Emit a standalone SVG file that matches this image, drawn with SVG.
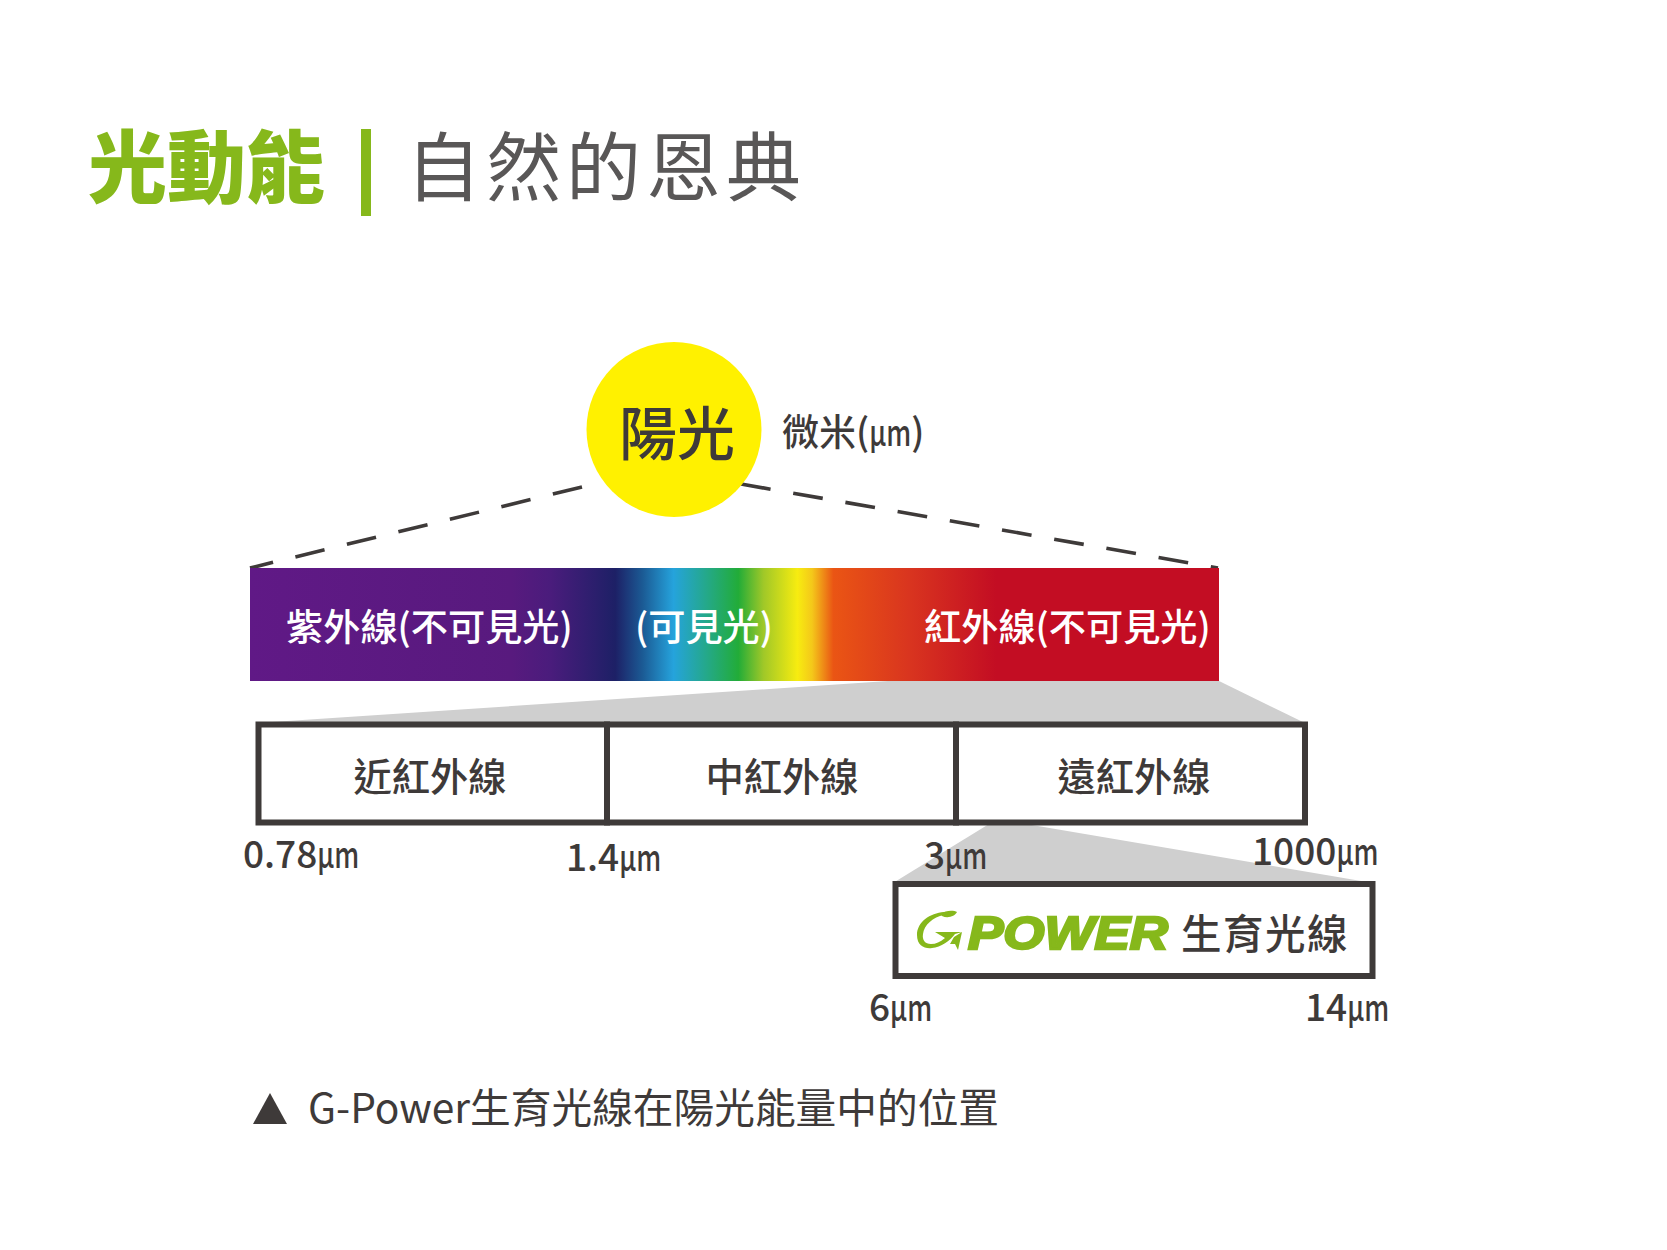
<svg xmlns="http://www.w3.org/2000/svg" width="1667" height="1250" viewBox="0 0 1667 1250">
<defs>
<linearGradient id="spec" x1="0" y1="0" x2="1" y2="0">
<stop offset="0" stop-color="#601986"/><stop offset="0.27" stop-color="#581a7e"/><stop offset="0.31" stop-color="#4a1c7c"/><stop offset="0.377" stop-color="#1d2066"/><stop offset="0.405" stop-color="#1b5a94"/><stop offset="0.437" stop-color="#25a3dc"/><stop offset="0.475" stop-color="#24a980"/><stop offset="0.504" stop-color="#22ac38"/><stop offset="0.53" stop-color="#a0c828"/><stop offset="0.565" stop-color="#f7ec10"/><stop offset="0.58" stop-color="#f4c81a"/><stop offset="0.602" stop-color="#ea5514"/><stop offset="0.68" stop-color="#d9351f"/><stop offset="0.77" stop-color="#c30d23"/><stop offset="1" stop-color="#c30d23"/>
</linearGradient>
</defs>
<style>
text{font-family:"Noto Sans CJK TC","Noto Sans CJK SC",sans-serif;fill:#3e3a39}
.w{fill:#fff;font-weight:500;font-size:37.200px}
.b{font-weight:500;font-size:38.300px;text-anchor:middle}
.n{font-weight:500;font-size:37px}
.box{fill:#fff;stroke:#3e3a39;stroke-width:6}
.dash{fill:none;stroke:#3e3a39;stroke-width:3.600;stroke-dasharray:30 23}
</style>
<rect width="1667" height="1250" fill="#fff"/>
<g id="title">
<text x="88" y="197" font-size="79" font-weight="900" style="fill:#86b81b">光動能</text>
<rect x="361" y="129" width="10" height="87" fill="#86b81b"/>
<text x="406" y="195" font-size="75" font-weight="400" letter-spacing="5" style="fill:#595757">自然的恩典</text>
</g>
<g id="connectors">
<path class="dash" d="M582 487L250 568"/>
<path class="dash" d="M741 484L1218 568"/>
<polygon points="888,681 1219,681 1305,723 257,723" fill="#cfcfcf"/>
<polygon points="989,824 1026,824 1373,883 893,883" fill="#cfcfcf"/>
</g>
<g id="sun">
<circle cx="674" cy="429.500" r="87.500" fill="#fff100"/>
<text x="677" y="455" font-size="58" font-weight="500" text-anchor="middle">陽光</text>
<text x="782" y="446" class="n">微米(<tspan textLength="42" lengthAdjust="spacingAndGlyphs">µm</tspan>)</text>
</g>
<g id="spectrum">
<rect x="250" y="568" width="969" height="113" fill="url(#spec)"/>
<text x="286" y="641" class="w">紫外線(不可見光)</text>
<text x="635" y="641" class="w">(可見光)</text>
<text x="924" y="641" class="w">紅外線(不可見光)</text>
</g>
<g id="near"><rect class="box" x="258.500" y="724.500" width="348.500" height="98"/><text x="430" y="791" class="b">近紅外線</text></g>
<g id="mid"><rect class="box" x="607" y="724.500" width="349" height="98"/><text x="782" y="791" class="b">中紅外線</text></g>
<g id="far"><rect class="box" x="956" y="724.500" width="349" height="98"/><text x="1134" y="791" class="b">遠紅外線</text></g>
<g id="gpower">
<rect class="box" x="895.500" y="884" width="477" height="92"/>
<path d="M944 912C930 913 917 922 917 935C917 946 925 949 932 948C941 947 950 941 955 934L962 932L935 932L945 938C940 942 936 944 931 944C925 944 922 940 923 934C924 925 933 917 944 915Z" fill="#86b81b"/>
<path d="M941 914C945 910 954 910 957 912C955 916 948 919 942 916Z" fill="#86b81b"/>
<path d="M954 937L962 932L958 950L955 944L950 944Z" fill="#86b81b"/>
<text x="968" y="949" font-size="46" font-weight="700" font-style="italic" textLength="200" lengthAdjust="spacingAndGlyphs" style="fill:#86b81b;font-family:'Liberation Sans',sans-serif;stroke:#86b81b;stroke-width:2.500">POWER</text>
<text x="1181" y="949" font-size="40.500" font-weight="500" letter-spacing="1.500">生育光線</text>
</g>
<g id="labels">
<text x="243" y="868" class="n">0.78<tspan textLength="42" lengthAdjust="spacingAndGlyphs">µm</tspan></text>
<text x="566" y="871" class="n">1.4<tspan textLength="42" lengthAdjust="spacingAndGlyphs">µm</tspan></text>
<text x="924" y="869" class="n">3<tspan textLength="42" lengthAdjust="spacingAndGlyphs">µm</tspan></text>
<text x="1252" y="865" class="n">1000<tspan textLength="42" lengthAdjust="spacingAndGlyphs">µm</tspan></text>
<text x="869" y="1021" class="n">6<tspan textLength="42" lengthAdjust="spacingAndGlyphs">µm</tspan></text>
<text x="1305" y="1021" class="n">14<tspan textLength="42" lengthAdjust="spacingAndGlyphs">µm</tspan></text>
</g>
<g id="caption">
<polygon points="270,1093 287,1124 253,1124" fill="#3e3a39"/>
<text x="308" y="1123" font-size="40.700" font-weight="400">G-Power生育光線在陽光能量中的位置</text>
</g>
</svg>
